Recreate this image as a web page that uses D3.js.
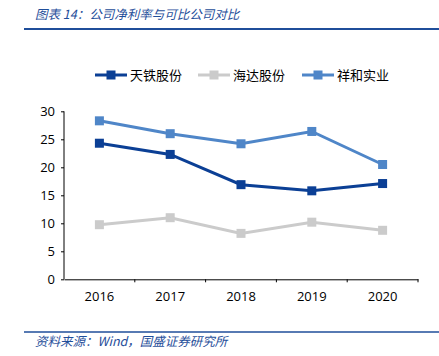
<!DOCTYPE html>
<html><head><meta charset="utf-8">
<script src="https://cdn.jsdelivr.net/npm/d3@7"></script>
<style>
html,body{margin:0;padding:0;background:#fff;}
svg{display:block;}
</style></head>
<body>
<svg id="c" width="439" height="356"></svg>
<script>
const categories = ["2016","2017","2018","2019","2020"];
const seriesNames = ["天铁股份","海达股份","祥和实业"];
const tiantie = [24.3, 22.3, 16.9, 15.8, 17.1];
const haida = [9.75, 11.0, 8.2, 10.2, 8.75];
const xianghe = [28.3, 26.0, 24.2, 26.4, 20.5];
const yTicks = [0,5,10,15,20,25,30];
const colors = ["#0b3f95","#cbcbcb","#4f86c8"];
const series = [tiantie, haida, xianghe];

(function(){
const svg = d3.select("#c");
const pL = 64, pR = 418, pT = 111.3, pB = 279.3;
const x = d3.scaleBand().domain(categories).range([pL, pR]);
const y = d3.scaleLinear().domain([0,30]).range([pB, pT]);
const font = "'Open Sans','DejaVu Sans',sans-serif";
const cjk = "'Noto Sans CJK SC',sans-serif";

// title
svg.append("text").attr("x",35).attr("y",19).attr("fill","#1f4e9a")
  .attr("font-family",cjk).attr("font-size",12.5).attr("font-style","italic")
  .text("图表 14：公司净利率与可比公司对比");
svg.append("line").attr("x1",24).attr("x2",439).attr("y1",29).attr("y2",29)
  .attr("stroke","#1f4e9a").attr("stroke-width",2);

// axes
const yAxis = svg.append("g").attr("transform",`translate(${pL},0)`)
  .call(d3.axisLeft(y).tickValues(yTicks).tickSize(3).tickPadding(6));
const xAxis = svg.append("g").attr("transform",`translate(0,${pB})`)
  .call(d3.axisBottom(x).tickSize(0).tickPadding(12));
[yAxis,xAxis].forEach(g=>{
  g.select(".domain").attr("stroke","#000").attr("stroke-width",1);
  g.selectAll(".tick line").attr("stroke","#000");
  g.selectAll("text").attr("font-family",font).attr("font-size",13).attr("fill","#000");
});
yAxis.select(".domain").attr("d",`M-0,${pT}H0V${pB}H-0`);
// x boundary ticks
const bounds = categories.map(c=>x(c)+x.bandwidth());
svg.append("g").selectAll("line").data(bounds).join("line")
  .attr("x1",d=>d).attr("x2",d=>d).attr("y1",pB).attr("y2",pB+3)
  .attr("stroke","#000");

// lines
const line = d3.line().x((d,i)=>x(categories[i])+x.bandwidth()/2).y(d=>y(d));
series.forEach((s,k)=>{
  const g = svg.append("g");
  g.append("path").attr("d",line(s)).attr("fill","none")
    .attr("stroke",colors[k]).attr("stroke-width",3);
  g.selectAll("rect").data(s).join("rect")
    .attr("x",(d,i)=>x(categories[i])+x.bandwidth()/2-4.5)
    .attr("y",d=>y(d)-4.5).attr("width",9).attr("height",9)
    .attr("fill",colors[k]);
});

// legend
const legX = [95,198,302];
seriesNames.forEach((n,k)=>{
  const g = svg.append("g");
  g.append("line").attr("x1",legX[k]).attr("x2",legX[k]+32).attr("y1",75).attr("y2",75)
    .attr("stroke",colors[k]).attr("stroke-width",3);
  g.append("rect").attr("x",legX[k]+16-4.5).attr("y",75-4.5).attr("width",9).attr("height",9)
    .attr("fill",colors[k]);
  g.append("text").attr("x",legX[k]+35).attr("y",79.5).attr("font-family",cjk)
    .attr("font-size",13).attr("fill","#000").text(n);
});

// source
svg.append("line").attr("x1",24).attr("x2",439).attr("y1",332).attr("y2",332)
  .attr("stroke","#1f4e9a").attr("stroke-width",1.5);
svg.append("text").attr("x",35).attr("y",345.5).attr("fill","#1f4e9a")
  .attr("font-family",cjk).attr("font-size",12.5).attr("font-style","italic")
  .text("资料来源：Wind，国盛证券研究所");
})();
</script>
</body></html>
